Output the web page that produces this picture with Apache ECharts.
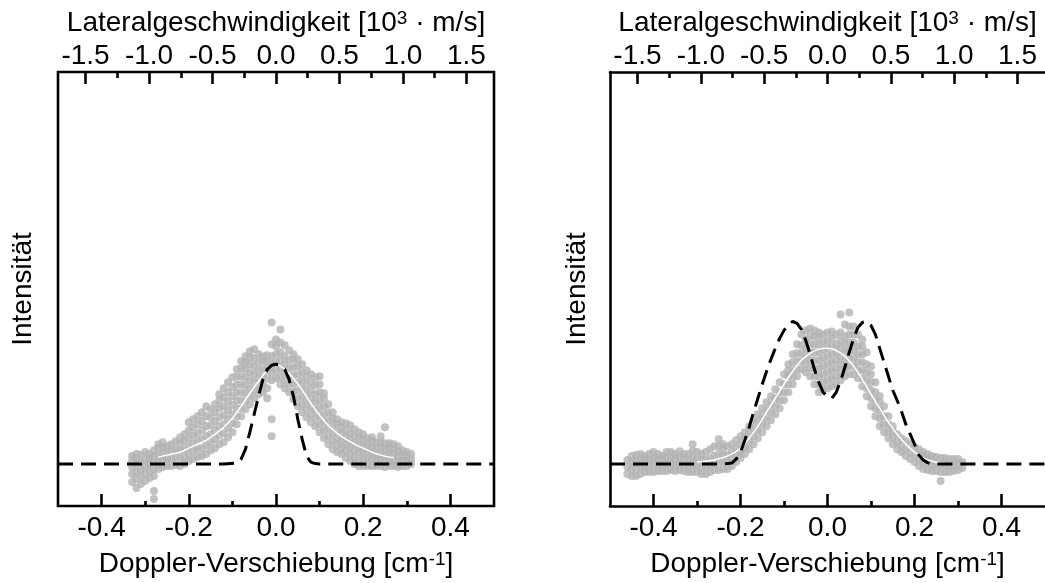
<!DOCTYPE html>
<html><head><meta charset="utf-8">
<script src="https://cdn.jsdelivr.net/npm/echarts@6/dist/echarts.min.js"></script>
<style>html,body{margin:0;padding:0;background:#fff}#c{width:1045px;height:583px}</style>
</head><body><div id="c"></div><script>
const FONT = 'Liberation Sans';
// tick values
const dopplerMajor = [-0.4, -0.2, 0, 0.2, 0.4];
const dopplerMinor = [-0.3, -0.1, 0.1, 0.3];
const lateralMajor = [-1.5, -1.0, -0.5, 0, 0.5, 1.0, 1.5];
const lateralMinor = [-1.25, -0.75, -0.25, 0.25, 0.75, 1.25];
const dopplerRange = [-0.5, 0.5];
const lateralRange = [-1.717, 1.717];
const intensityRange = [-0.42, 3.93];

// measured points, grouped by Doppler shift column: [x, [intensities]]
const leftCols = [
[-0.33,[-0.18,-0.1,-0.03,0.03,0.08]],
[-0.32,[-0.24,-0.15,-0.08,0.0,0.06,0.1]],
[-0.31,[-0.2,-0.12,-0.05,0.02,0.09]],
[-0.30,[-0.17,-0.1,-0.03,0.04,0.12]],
[-0.29,[-0.14,-0.07,0.0,0.05,0.1]],
[-0.28,[-0.35,-0.27,-0.12,-0.05,0.02,0.08,0.14]],
[-0.27,[-0.05,0.02,0.09,0.16,0.2]],
[-0.26,[-0.03,0.04,0.1,0.17,0.22]],
[-0.25,[-0.02,0.05,0.12,0.18]],
[-0.24,[-0.02,0.05,0.13,0.2]],
[-0.23,[-0.01,0.07,0.15,0.23]],
[-0.22,[-0.02,0.06,0.14,0.21,0.27]],
[-0.21,[0.0,0.07,0.15,0.23,0.3]],
[-0.20,[0.03,0.1,0.18,0.26,0.34,0.42]],
[-0.19,[0.05,0.13,0.21,0.29,0.37,0.45]],
[-0.18,[0.07,0.15,0.23,0.31,0.4,0.48]],
[-0.17,[0.08,0.16,0.25,0.34,0.43,0.52]],
[-0.16,[0.1,0.19,0.28,0.38,0.48,0.58]],
[-0.15,[0.14,0.22,0.3,0.39,0.47,0.55]],
[-0.14,[0.16,0.25,0.34,0.43,0.52,0.6]],
[-0.13,[0.2,0.29,0.38,0.47,0.56,0.64,0.7]],
[-0.12,[0.22,0.31,0.4,0.49,0.58,0.67,0.76]],
[-0.11,[0.27,0.36,0.45,0.54,0.63,0.72,0.82]],
[-0.10,[0.32,0.41,0.5,0.59,0.68,0.77,0.87]],
[-0.09,[0.4,0.48,0.56,0.64,0.72,0.8,0.88,0.95]],
[-0.08,[0.48,0.56,0.64,0.72,0.8,0.88,0.96,1.03]],
[-0.07,[0.55,0.63,0.71,0.79,0.87,0.95,1.02,1.08]],
[-0.06,[0.6,0.68,0.76,0.84,0.92,1.0,1.07,1.13]],
[-0.05,[0.66,0.74,0.82,0.9,0.98,1.06,1.15]],
[-0.04,[0.7,0.78,0.86,0.94,1.02,1.1]],
[-0.03,[0.72,0.8,0.88,0.96,1.04,1.08]],
[-0.02,[0.66,0.76,0.86,0.94,1.02,1.09]],
[-0.01,[0.28,0.45,0.84,0.92,1.0,1.08,1.2,1.42]],
[0.00,[0.86,0.94,1.02,1.1,1.18,1.25]],
[0.01,[0.8,0.88,0.96,1.04,1.12,1.22,1.35]],
[0.02,[0.76,0.84,0.92,1.0,1.08,1.19]],
[0.03,[0.72,0.8,0.88,0.96,1.04,1.14]],
[0.04,[0.65,0.73,0.81,0.89,0.97,1.05,1.1]],
[0.05,[0.58,0.66,0.74,0.82,0.9,0.98,1.05]],
[0.06,[0.52,0.6,0.68,0.76,0.84,0.92,1.0]],
[0.07,[0.47,0.55,0.63,0.71,0.79,0.87,0.94]],
[0.08,[0.42,0.5,0.58,0.66,0.74,0.82,0.9]],
[0.09,[0.38,0.46,0.54,0.62,0.7,0.79,0.87]],
[0.10,[0.32,0.4,0.48,0.56,0.64,0.72,0.8,0.88]],
[0.11,[0.26,0.34,0.42,0.5,0.58,0.66,0.71]],
[0.12,[0.2,0.28,0.36,0.44,0.52,0.6]],
[0.13,[0.15,0.23,0.31,0.39,0.46,0.52]],
[0.14,[0.12,0.19,0.26,0.33,0.4,0.45]],
[0.15,[0.1,0.17,0.24,0.31,0.37,0.42]],
[0.16,[0.06,0.13,0.2,0.27,0.34,0.41]],
[0.17,[0.03,0.1,0.17,0.24,0.31,0.39]],
[0.18,[0.0,0.07,0.14,0.21,0.28,0.35]],
[0.19,[-0.02,0.05,0.12,0.19,0.26,0.32]],
[0.20,[-0.02,0.05,0.12,0.19,0.25,0.3]],
[0.21,[-0.02,0.05,0.12,0.19,0.26]],
[0.22,[-0.02,0.05,0.11,0.17,0.23,0.27]],
[0.23,[-0.02,0.04,0.1,0.16,0.22]],
[0.24,[-0.02,0.04,0.1,0.16,0.22,0.28]],
[0.25,[-0.03,0.03,0.09,0.15,0.21,0.37]],
[0.26,[-0.02,0.04,0.1,0.16,0.21]],
[0.27,[-0.02,0.04,0.1,0.15,0.2]],
[0.28,[-0.03,0.02,0.08,0.13,0.18]],
[0.29,[-0.02,0.03,0.08,0.14]],
[0.30,[-0.02,0.03,0.08,0.12]],
[0.31,[0.0,0.05,0.1]]
];
const leftFit = [[-0.27,0.07],[-0.25,0.09],[-0.22,0.12],[-0.2,0.16],[-0.18,0.2],[-0.16,0.24],[-0.14,0.3],[-0.12,0.37],[-0.1,0.46],[-0.08,0.58],[-0.06,0.71],[-0.04,0.83],[-0.02,0.94],[0,1.0],[0.02,0.95],[0.04,0.86],[0.06,0.74],[0.08,0.61],[0.1,0.49],[0.12,0.39],[0.14,0.31],[0.16,0.25],[0.18,0.2],[0.2,0.16],[0.22,0.12],[0.24,0.09],[0.26,0.07],[0.27,0.065]];
const leftModel = [[-0.5,0],[-0.12,0],[-0.09,0.01],[-0.08,0.05],[-0.07,0.15],[-0.06,0.32],[-0.05,0.5],[-0.04,0.68],[-0.03,0.85],[-0.02,0.95],[-0.01,0.99],[0,1.0],[0.01,0.99],[0.02,0.95],[0.03,0.85],[0.04,0.68],[0.05,0.45],[0.06,0.25],[0.07,0.08],[0.08,0.02],[0.09,0.005],[0.1,0],[0.5,0]];

const rightCols = [
[-0.46,[-0.1,-0.03,0.04]],
[-0.45,[-0.12,-0.05,0.02,0.08]],
[-0.44,[-0.12,-0.05,0.02,0.09]],
[-0.43,[-0.1,-0.03,0.04,0.1]],
[-0.42,[-0.08,-0.02,0.04,0.08]],
[-0.41,[-0.08,-0.02,0.04,0.1]],
[-0.40,[-0.08,-0.01,0.05,0.12]],
[-0.39,[-0.07,-0.01,0.05,0.1]],
[-0.38,[-0.07,-0.01,0.05,0.08]],
[-0.37,[-0.07,0.0,0.06,0.12]],
[-0.36,[-0.06,0.0,0.06,0.12]],
[-0.35,[-0.07,-0.01,0.05,0.1]],
[-0.34,[-0.06,0.0,0.07,0.13]],
[-0.33,[-0.07,-0.01,0.05,0.1]],
[-0.32,[-0.08,-0.02,0.04,0.1]],
[-0.31,[-0.08,-0.01,0.06,0.13,0.2]],
[-0.30,[-0.08,-0.02,0.05,0.12]],
[-0.29,[-0.1,-0.03,0.04,0.1]],
[-0.28,[-0.1,-0.03,0.04,0.12]],
[-0.27,[-0.08,-0.01,0.06,0.15]],
[-0.26,[-0.06,0.01,0.08,0.18]],
[-0.25,[-0.06,0.02,0.1,0.18,0.25]],
[-0.24,[-0.05,0.02,0.09,0.16,0.2]],
[-0.23,[-0.05,0.02,0.09,0.18]],
[-0.22,[-0.02,0.05,0.12,0.2]],
[-0.21,[0.02,0.09,0.16,0.24]],
[-0.20,[0.06,0.13,0.2,0.28]],
[-0.19,[0.1,0.17,0.25,0.32]],
[-0.18,[0.15,0.23,0.31,0.38]],
[-0.17,[0.2,0.28,0.36,0.44]],
[-0.16,[0.26,0.34,0.42,0.5]],
[-0.15,[0.32,0.4,0.48,0.56]],
[-0.14,[0.38,0.46,0.54,0.62]],
[-0.13,[0.44,0.52,0.6,0.68]],
[-0.12,[0.5,0.58,0.66,0.75]],
[-0.11,[0.56,0.64,0.72,0.82]],
[-0.10,[0.64,0.72,0.8,0.9]],
[-0.09,[0.72,0.8,0.88,0.94,1.0]],
[-0.08,[0.8,0.87,0.94,1.02,1.1]],
[-0.07,[0.88,0.95,1.03,1.11,1.2]],
[-0.06,[0.95,1.03,1.11,1.19,1.3]],
[-0.05,[0.92,1.0,1.08,1.16,1.25,1.34]],
[-0.04,[0.88,0.96,1.04,1.12,1.2,1.28,1.36]],
[-0.03,[0.8,0.88,0.96,1.04,1.12,1.2,1.28,1.34]],
[-0.02,[0.72,0.8,0.88,0.96,1.04,1.12,1.2,1.27,1.32]],
[-0.01,[0.74,0.82,0.9,0.98,1.06,1.14,1.22,1.3]],
[0.00,[0.76,0.84,0.92,1.0,1.08,1.16,1.24,1.32]],
[0.01,[0.78,0.86,0.94,1.02,1.1,1.18,1.26,1.33]],
[0.02,[0.8,0.88,0.96,1.04,1.12,1.2,1.3]],
[0.03,[0.84,0.92,1.0,1.08,1.16,1.24,1.32,1.5]],
[0.04,[0.88,0.96,1.04,1.12,1.2,1.28,1.4]],
[0.05,[0.9,0.98,1.06,1.14,1.22,1.3,1.38,1.52]],
[0.06,[0.9,0.98,1.06,1.14,1.22,1.3,1.38]],
[0.07,[0.86,0.94,1.02,1.1,1.18,1.3]],
[0.08,[0.78,0.86,0.94,1.02,1.1,1.18,1.25]],
[0.09,[0.68,0.76,0.84,0.92,1.0,1.12]],
[0.10,[0.58,0.66,0.74,0.82,0.9,0.98]],
[0.11,[0.48,0.56,0.64,0.72,0.82]],
[0.12,[0.38,0.46,0.54,0.62,0.68]],
[0.13,[0.32,0.4,0.48,0.58]],
[0.14,[0.26,0.33,0.4,0.48]],
[0.15,[0.2,0.27,0.33,0.38]],
[0.16,[0.15,0.22,0.3]],
[0.17,[0.12,0.19,0.26]],
[0.18,[0.08,0.15,0.23]],
[0.19,[0.05,0.12,0.2]],
[0.20,[0.02,0.09,0.17]],
[0.21,[-0.02,0.05,0.11,0.15]],
[0.22,[-0.05,0.02,0.08,0.12]],
[0.23,[-0.06,0.0,0.05,0.1]],
[0.24,[-0.07,-0.01,0.04,0.08]],
[0.25,[-0.07,0.0,0.07]],
[0.26,[-0.17,-0.08,-0.01,0.06]],
[0.27,[-0.08,-0.01,0.06]],
[0.28,[-0.08,-0.02,0.05]],
[0.29,[-0.07,-0.01,0.05]],
[0.30,[-0.06,0.0,0.05]],
[0.31,[-0.04,0.02]]
];
const rightFit = [[-0.3,0.02],[-0.26,0.04],[-0.22,0.1],[-0.2,0.16],[-0.18,0.26],[-0.16,0.38],[-0.14,0.52],[-0.12,0.66],[-0.1,0.8],[-0.08,0.93],[-0.06,1.04],[-0.04,1.11],[-0.02,1.15],[0,1.16],[0.02,1.14],[0.04,1.08],[0.06,0.98],[0.08,0.85],[0.1,0.7],[0.12,0.56],[0.14,0.42],[0.16,0.3],[0.18,0.2],[0.2,0.12],[0.22,0.06],[0.24,0.03],[0.26,0.01],[0.28,0]];
const rightModel = [[-0.5,0],[-0.24,0],[-0.22,0.01],[-0.21,0.05],[-0.2,0.12],[-0.19,0.24],[-0.18,0.37],[-0.17,0.52],[-0.16,0.66],[-0.15,0.8],[-0.14,0.93],[-0.13,1.05],[-0.12,1.16],[-0.11,1.26],[-0.1,1.34],[-0.09,1.4],[-0.08,1.43],[-0.07,1.41],[-0.06,1.35],[-0.05,1.24],[-0.04,1.1],[-0.03,0.95],[-0.02,0.82],[-0.01,0.72],[0,0.67],[0.01,0.66],[0.02,0.72],[0.03,0.83],[0.04,0.97],[0.05,1.12],[0.06,1.26],[0.07,1.37],[0.08,1.42],[0.09,1.43],[0.1,1.39],[0.11,1.3],[0.12,1.16],[0.13,1.02],[0.14,0.88],[0.15,0.74],[0.16,0.64],[0.17,0.53],[0.18,0.4],[0.19,0.3],[0.2,0.2],[0.21,0.09],[0.22,0.04],[0.23,0.015],[0.24,0],[0.5,0]];

const xTitle = '{a|Doppler-Verschiebung [cm}{s|-1}{a|]}';
const topTitle = '{a|Lateralgeschwindigkeit [10}{s|3}{a| · m/s]}';
const yTitle = 'Intensität';

function pointsFrom(cols){ const out=[]; cols.forEach(c=>c[1].forEach(y=>out.push([c[0],y]))); return out; }

const FS = 28;
const txt = {fontFamily: FONT, fontSize: FS, color:'#000'};
const rich = {a:{fontFamily:FONT,fontSize:FS,color:'#000'}, s:{fontFamily:FONT,fontSize:19,color:'#000',verticalAlign:'top'}};
const LW = 2.6;

function xAxis(gi, pos, range, ticks, len, labels, showLine, name, gap, margin){
  return {type:'value', gridIndex:gi, position:pos, min:range[0], max:range[1],
    axisLine:{show:showLine, onZero:false, lineStyle:{color:'#000', width:LW}}, splitLine:{show:false},
    axisTick:{show:true, inside:true, length:len, customValues:ticks, lineStyle:{color:'#000', width:LW}},
    axisLabel: labels ? Object.assign({show:true, customValues:ticks, margin:margin, formatter:v=>Number(v).toFixed(1)}, txt) : {show:false},
    name: name || '', nameLocation:'middle', nameGap: gap || 0,
    nameTextStyle: Object.assign({rich:rich}, txt)};
}
function yAxis(gi, showLine, name, gap){
  return {type:'value', gridIndex:gi, min:intensityRange[0], max:intensityRange[1],
    axisLine:{show:showLine, onZero:false, lineStyle:{color:'#000', width:LW}}, axisTick:{show:false}, axisLabel:{show:false}, splitLine:{show:false},
    name: name || '', nameLocation:'middle', nameRotate:90, nameGap:gap || 0, nameTextStyle: txt};
}
const grids = [
  {left:58, top:72, width:436, height:435, show:true, borderColor:'#000', borderWidth:LW, backgroundColor:'transparent'},
  {left:610, top:72, width:436, height:435},
  {left:58, top:72, width:436, height:435},
  {left:610, top:72, width:436, height:435}
];
const scatterStyle = {color:'#b3b3b3'};
function panelSeries(xi, yi, cols, fit, model){
  return [
    {type:'scatter', xAxisIndex:xi, yAxisIndex:yi, data:pointsFrom(cols), symbolSize:8, itemStyle:scatterStyle, silent:true},
    {type:'line', xAxisIndex:xi, yAxisIndex:yi, data:fit, symbol:'none', smooth:0.3, lineStyle:{color:'#ffffff', width:1.5}, silent:true},
    {type:'line', xAxisIndex:xi, yAxisIndex:yi, data:model, symbol:'none', lineStyle:{color:'#000', width:3, type:[15,8]}, silent:true}
  ];
}
const option = {
  animation:false,
  grid: grids,
  xAxis: [
    xAxis(0,'bottom',dopplerRange,dopplerMajor,12,true,false,xTitle,44,8),
    xAxis(0,'top',lateralRange,lateralMajor,12,true,false,topTitle,31,2),
    xAxis(1,'bottom',dopplerRange,dopplerMajor,12,true,true,xTitle,44,8),
    xAxis(1,'top',lateralRange,lateralMajor,12,true,true,topTitle,31,2),
    xAxis(2,'bottom',dopplerRange,dopplerMinor,6,false,false),
    xAxis(2,'top',lateralRange,lateralMinor,6,false,false),
    xAxis(3,'bottom',dopplerRange,dopplerMinor,6,false,false),
    xAxis(3,'top',lateralRange,lateralMinor,6,false,false)
  ],
  yAxis: [yAxis(0,false,yTitle,21), yAxis(1,true,yTitle,19), yAxis(2,false), yAxis(3,false)],
  series: [].concat(
    panelSeries(0,0,leftCols,leftFit,leftModel),
    panelSeries(2,1,rightCols,rightFit,rightModel)
  )
};
const chart = echarts.init(document.getElementById('c'), null, {renderer:'canvas'});
chart.setOption(option);
</script></body></html>
